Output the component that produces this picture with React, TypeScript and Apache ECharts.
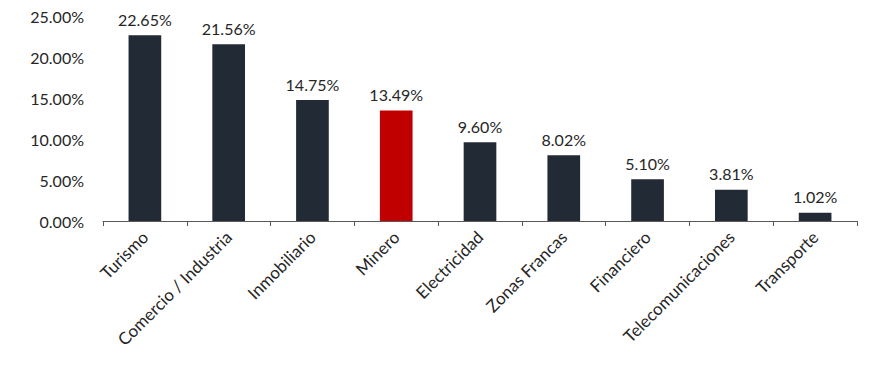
import React, { useEffect, useRef } from "react";
import * as echarts from "echarts";

const categories = ["Turismo", "Comercio / Industria", "Inmobiliario", "Minero", "Electricidad", "Zonas Francas", "Financiero", "Telecomunicaciones", "Transporte"];
const values = [22.65, 21.56, 14.75, 13.49, 9.6, 8.02, 5.1, 3.81, 1.02];
const highlight = "Minero";
const yTicks = { min: 0, max: 25, interval: 5 };

const FONT = "Lato, 'Open Sans', sans-serif";

export default function App() {
  const ref = useRef<HTMLDivElement>(null);
  useEffect(() => {
    if (!ref.current) return;
    const chart = echarts.init(ref.current, undefined, { renderer: "svg" });
    chart.setOption({
      animation: false,
      grid: { left: 95, right: 19, top: 4, bottom: 144, containLabel: false },
      xAxis: {
        type: "category",
        data: categories,
        axisLine: { show: true, lineStyle: { color: "#595959", width: 1 } },
        axisTick: { show: true, length: 5, lineStyle: { color: "#595959" } },
        axisLabel: {
          rotate: 45,
          margin: 13,
          interval: 0,
          color: "#262626",
          fontSize: 17,
          fontFamily: FONT,
        },
      },
      yAxis: {
        type: "value",
        min: yTicks.min,
        max: yTicks.max,
        interval: yTicks.interval,
        splitLine: { show: false },
        axisLine: { show: false },
        axisTick: { show: false },
        axisLabel: {
          margin: 19,
          color: "#262626",
          fontSize: 16,
          fontFamily: FONT,
          formatter: (v: number) => v.toFixed(2) + "%",
        },
      },
      series: [
        {
          type: "bar",
          barWidth: "39%",
          data: values.map((v, i) => ({
            value: v,
            itemStyle: { color: categories[i] === highlight ? "#c00000" : "#222a35" },
          })),
          label: {
            show: true,
            position: "top",
            distance: 8,
            color: "#262626",
            fontSize: 16,
            fontFamily: FONT,
            formatter: (p: any) => p.value.toFixed(2) + "%",
          },
        },
      ],
    });
    return () => chart.dispose();
  }, []);
  return <div ref={ref} style={{ width: 868, height: 357 }} />;
}
